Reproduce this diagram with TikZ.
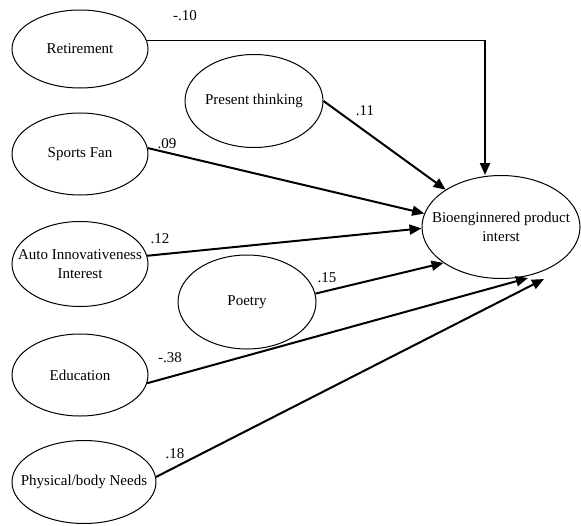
\documentclass[tikz,border=0pt]{standalone}
\usepackage{fontspec}
\setmainfont{Liberation Serif}
\usetikzlibrary{shapes.geometric,arrows.meta}
\newcommand{\zb}[1]{\makebox[0pt]{#1}}
\tikzset{
  var/.style={ellipse, draw, line width=1pt, inner sep=0pt, align=center,
    font=\fontsize{15}{19}\selectfont},
  path/.style={line width=2pt, -{Triangle[length=12pt,width=10pt]}},
  coef/.style={font=\fontsize{15}{19}\selectfont, inner sep=0pt}
}
\begin{document}
\begin{tikzpicture}[x=1pt,y=-1pt]
\useasboundingbox (0,0) rectangle (581,525);
\node[var, minimum width=136pt, minimum height=78pt] (ret) at (80,49) {\zb{Retirement}};
\node[var, minimum width=138pt, minimum height=93pt] (pt) at (254,101) {\zb{Present thinking}};
\node[var, minimum width=136pt, minimum height=82pt] (sf) at (80,154) {\zb{Sports Fan}};
\node[var, minimum width=136pt, minimum height=85pt] (ai) at (80,264) {\zb{Auto Innovativeness}\\\zb{Interest}};
\node[var, minimum width=138pt, minimum height=94pt] (po) at (247,302) {\zb{Poetry}};
\node[var, minimum width=136pt, minimum height=82pt] (ed) at (80,375) {\zb{Education}};
\node[var, minimum width=144pt, minimum height=83pt] (pb) at (84,482) {\zb{Physical/body Needs}};
\node[var, minimum width=158pt, minimum height=103pt] (bio) at (501,227) {\zb{Bioenginnered product}\\\zb{interst}};

\coordinate (corner) at (485,41);
\coordinate (edend) at (528,278);
\coordinate (pbend) at (544,279);
\draw[line width=1pt] (ret.7) -- (ret.7 -| corner) -- (corner);
\draw[path] (corner) -- (corner |- bio.north);
\draw[path] (pt.east) -- (bio.146);
\draw[path] (sf.5) -- (bio.170);
\draw[path] (ai.7) -- (bio.181);
\draw[path] (po.7) -- (bio.212);
\draw[path] (ed.-7) -- (edend);
\draw[path] (pb.4) -- (pbend);

\node[coef] (c1) at (185,16) {-.10};
\node[coef] (c2) at (167,144) {.09};
\node[coef] (c3) at (365,111) {.11};
\node[coef] (c4) at (160,239) {.12};
\node[coef] (c5) at (327,278) {.15};
\node[coef] (c6) at (170,358) {-.38};
\node[coef] (c7) at (175,454) {.18};
\end{tikzpicture}
\end{document}
